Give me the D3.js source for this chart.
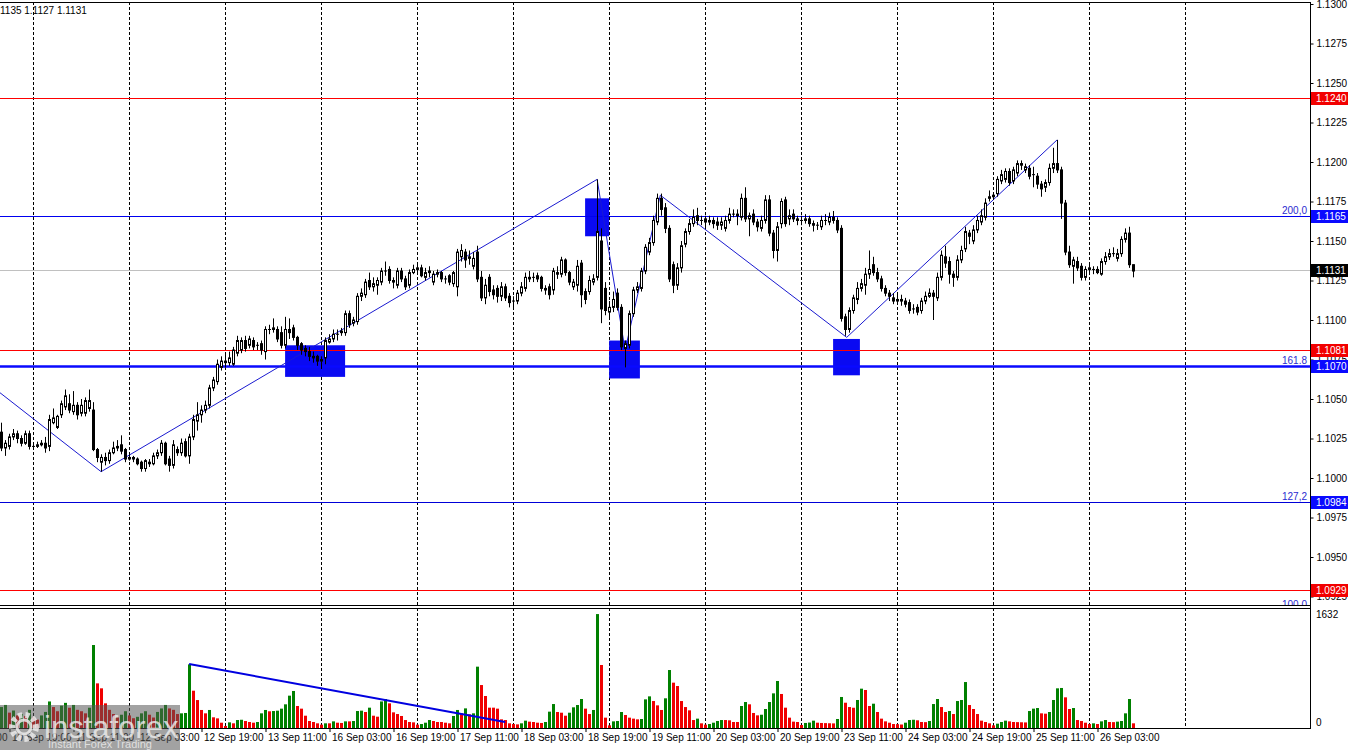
<!DOCTYPE html>
<html><head><meta charset="utf-8">
<script src="https://cdn.jsdelivr.net/npm/d3@7/dist/d3.min.js"></script>
<style>body{margin:0;background:#fff;overflow:hidden}svg{display:block}text{font-family:"Liberation Sans",Arial,sans-serif}</style>
</head><body><svg id="c" width="1350" height="750"></svg>
<script>
// ---------------- DATA ----------------
const ohlc = [
[1.1029,1.1035,1.1017,1.1019],[1.1019,1.1024,1.1014,1.1022],[1.1020,1.1028,1.1018,1.1026],[1.1026,1.1031,1.1024,1.1028],
[1.1028,1.1030,1.1022,1.1025],[1.1025,1.1027,1.1020,1.1022],[1.1022,1.1030,1.1021,1.1028],[1.1028,1.1030,1.1018,1.1020],
[1.1020,1.1021,1.1019,1.1020],[1.1020,1.1023,1.1019,1.1021],[1.1021,1.1024,1.1020,1.1022],[1.1022,1.1026,1.1016,1.1019],
[1.1020,1.1040,1.1017,1.1037],[1.1035,1.1044,1.1034,1.1038],[1.1032,1.1040,1.1031,1.1039],[1.1040,1.1049,1.1038,1.1047],
[1.1045,1.1056,1.1043,1.1052],[1.1047,1.1053,1.1041,1.1043],[1.1042,1.1055,1.1040,1.1046],[1.1046,1.1048,1.1037,1.1040],
[1.1041,1.1050,1.1039,1.1046],[1.1041,1.1051,1.1039,1.1049],[1.1044,1.1056,1.1042,1.1049],[1.1043,1.1048,1.1017,1.1018],
[1.1018,1.1019,1.1010,1.1013],[1.1010,1.1015,1.1004,1.1013],[1.1013,1.1016,1.1008,1.1011],[1.1011,1.1018,1.1009,1.1016],
[1.1016,1.1023,1.1015,1.1019],[1.1019,1.1024,1.1017,1.1020],[1.1021,1.1027,1.1015,1.1017],[1.1018,1.1019,1.1010,1.1012],
[1.1012,1.1015,1.1011,1.1013],[1.1013,1.1014,1.1010,1.1012],[1.1012,1.1013,1.1008,1.1009],[1.1010,1.1011,1.1004,1.1006],
[1.1006,1.1012,1.1004,1.1011],[1.1010,1.1012,1.1007,1.1009],[1.1009,1.1016,1.1008,1.1014],[1.1014,1.1018,1.1012,1.1016],
[1.1016,1.1024,1.1014,1.1022],[1.1022,1.1023,1.1008,1.1009],[1.1012,1.1014,1.1004,1.1008],[1.1008,1.1024,1.1006,1.1021],
[1.1018,1.1020,1.1014,1.1016],[1.1016,1.1025,1.1014,1.1022],[1.1023,1.1025,1.1013,1.1014],[1.1014,1.1028,1.1009,1.1026],
[1.1026,1.1040,1.1024,1.1037],[1.1036,1.1048,1.1030,1.1040],[1.1040,1.1046,1.1035,1.1043],[1.1043,1.1049,1.1041,1.1046],
[1.1046,1.1059,1.1044,1.1057],[1.1057,1.1064,1.1055,1.1062],[1.1061,1.1075,1.1059,1.1072],[1.1070,1.1077,1.1068,1.1074],
[1.1073,1.1078,1.1070,1.1074],[1.1073,1.1080,1.1071,1.1076],[1.1072,1.1083,1.1071,1.1081],[1.1079,1.1090,1.1077,1.1087],
[1.1081,1.1089,1.1079,1.1087],[1.1087,1.1090,1.1080,1.1082],[1.1084,1.1090,1.1082,1.1088],[1.1087,1.1089,1.1081,1.1083],
[1.1084,1.1086,1.1081,1.1084],[1.1085,1.1087,1.1078,1.1081],[1.1080,1.1096,1.1075,1.1094],[1.1094,1.1097,1.1091,1.1094],
[1.1094,1.1101,1.1092,1.1095],[1.1094,1.1096,1.1086,1.1088],[1.1092,1.1096,1.1082,1.1084],[1.1084,1.1102,1.1082,1.1094],
[1.1094,1.1101,1.1088,1.1092],[1.1095,1.1097,1.1087,1.1089],[1.1089,1.1090,1.1081,1.1084],[1.1085,1.1086,1.1078,1.1081],
[1.1082,1.1084,1.1077,1.1080],[1.1080,1.1083,1.1074,1.1077],[1.1076,1.1080,1.1073,1.1077],[1.1077,1.1078,1.1071,1.1074],
[1.1074,1.1077,1.1069,1.1075],[1.1076,1.1089,1.1072,1.1087],[1.1086,1.1091,1.1085,1.1088],[1.1088,1.1094,1.1086,1.1091],
[1.1091,1.1094,1.1087,1.1091],[1.1092,1.1095,1.1090,1.1093],[1.1092,1.1106,1.1090,1.1104],[1.1104,1.1106,1.1095,1.1097],
[1.1098,1.1102,1.1096,1.1100],[1.1099,1.1117,1.1097,1.1115],[1.1115,1.1120,1.1112,1.1117],[1.1116,1.1126,1.1114,1.1124],
[1.1125,1.1130,1.1119,1.1121],[1.1121,1.1127,1.1118,1.1123],[1.1122,1.1127,1.1116,1.1125],[1.1124,1.1133,1.1122,1.1131],
[1.1131,1.1137,1.1128,1.1131],[1.1132,1.1134,1.1123,1.1125],[1.1125,1.1127,1.1120,1.1124],[1.1122,1.1133,1.1120,1.1131],
[1.1131,1.1133,1.1124,1.1126],[1.1126,1.1128,1.1119,1.1121],[1.1122,1.1132,1.1120,1.1130],[1.1130,1.1135,1.1129,1.1132],
[1.1132,1.1135,1.1130,1.1133],[1.1133,1.1135,1.1127,1.1128],[1.1127,1.1133,1.1125,1.1130],[1.1130,1.1134,1.1127,1.1131],
[1.1124,1.1131,1.1122,1.1129],[1.1129,1.1132,1.1127,1.1130],[1.1130,1.1131,1.1124,1.1126],[1.1126,1.1128,1.1123,1.1126],
[1.1128,1.1129,1.1122,1.1124],[1.1123,1.1131,1.1121,1.1130],[1.1121,1.1145,1.1115,1.1143],[1.1140,1.1148,1.1137,1.1144],
[1.1143,1.1145,1.1133,1.1138],[1.1139,1.1144,1.1135,1.1140],[1.1134,1.1143,1.1132,1.1139],[1.1143,1.1147,1.1124,1.1126],
[1.1127,1.1131,1.1112,1.1114],[1.1114,1.1126,1.1110,1.1122],[1.1127,1.1129,1.1115,1.1118],[1.1119,1.1122,1.1113,1.1116],
[1.1120,1.1122,1.1111,1.1115],[1.1115,1.1124,1.1112,1.1121],[1.1121,1.1123,1.1112,1.1114],[1.1115,1.1117,1.1108,1.1111],
[1.1112,1.1115,1.1108,1.1112],[1.1112,1.1119,1.1110,1.1117],[1.1117,1.1124,1.1115,1.1121],[1.1120,1.1130,1.1118,1.1127],
[1.1126,1.1131,1.1124,1.1127],[1.1127,1.1130,1.1124,1.1127],[1.1128,1.1130,1.1124,1.1126],[1.1127,1.1128,1.1118,1.1120],
[1.1120,1.1122,1.1116,1.1119],[1.1121,1.1123,1.1113,1.1116],[1.1119,1.1133,1.1116,1.1131],[1.1130,1.1134,1.1126,1.1129],
[1.1129,1.1140,1.1127,1.1138],[1.1138,1.1139,1.1128,1.1130],[1.1130,1.1131,1.1122,1.1124],[1.1121,1.1126,1.1119,1.1124],
[1.1122,1.1138,1.1118,1.1134],[1.1136,1.1138,1.1108,1.1116],[1.1118,1.1120,1.1110,1.1113],[1.1118,1.1128,1.1116,1.1125],
[1.1124,1.1129,1.1122,1.1126],[1.1127,1.1189,1.1125,1.1156],[1.1150,1.1158,1.1098,1.1107],[1.1120,1.1124,1.1103,1.1106],
[1.1105,1.1112,1.1100,1.1108],[1.1108,1.1118,1.1105,1.1113],[1.1117,1.1120,1.1106,1.1108],[1.1108,1.1110,1.1081,1.1083],
[1.1082,1.1087,1.1070,1.1085],[1.1084,1.1106,1.1082,1.1104],[1.1104,1.1121,1.1102,1.1119],[1.1119,1.1124,1.1117,1.1121],
[1.1120,1.1133,1.1118,1.1131],[1.1131,1.1148,1.1129,1.1146],[1.1143,1.1152,1.1141,1.1149],[1.1149,1.1166,1.1147,1.1163],
[1.1162,1.1180,1.1160,1.1177],[1.1177,1.1180,1.1166,1.1170],[1.1171,1.1174,1.1155,1.1158],[1.1158,1.1160,1.1124,1.1126],
[1.1135,1.1137,1.1117,1.1122],[1.1122,1.1136,1.1119,1.1133],[1.1133,1.1150,1.1130,1.1147],[1.1148,1.1158,1.1146,1.1156],
[1.1156,1.1164,1.1154,1.1161],[1.1161,1.1170,1.1159,1.1165],[1.1166,1.1171,1.1160,1.1163],[1.1163,1.1166,1.1160,1.1163],
[1.1164,1.1166,1.1158,1.1162],[1.1162,1.1166,1.1160,1.1163],[1.1163,1.1165,1.1158,1.1161],[1.1162,1.1165,1.1157,1.1160],
[1.1160,1.1165,1.1157,1.1162],[1.1158,1.1166,1.1156,1.1163],[1.1163,1.1171,1.1161,1.1167],[1.1167,1.1170,1.1165,1.1167],
[1.1167,1.1170,1.1160,1.1166],[1.1165,1.1180,1.1163,1.1177],[1.1177,1.1184,1.1162,1.1164],[1.1164,1.1168,1.1153,1.1166],
[1.1167,1.1170,1.1160,1.1162],[1.1162,1.1164,1.1156,1.1159],[1.1158,1.1166,1.1156,1.1163],[1.1163,1.1179,1.1161,1.1176],
[1.1176,1.1179,1.1153,1.1155],[1.1155,1.1157,1.1139,1.1144],[1.1144,1.1162,1.1137,1.1159],[1.1161,1.1177,1.1158,1.1175],
[1.1176,1.1178,1.1159,1.1161],[1.1164,1.1170,1.1160,1.1166],[1.1167,1.1170,1.1162,1.1164],[1.1164,1.1166,1.1160,1.1163],
[1.1163,1.1166,1.1160,1.1163],[1.1163,1.1167,1.1161,1.1164],[1.1164,1.1166,1.1159,1.1161],[1.1161,1.1163,1.1156,1.1160],
[1.1160,1.1162,1.1157,1.1160],[1.1159,1.1166,1.1157,1.1163],[1.1163,1.1167,1.1160,1.1163],[1.1162,1.1168,1.1160,1.1165],
[1.1165,1.1169,1.1161,1.1163],[1.1163,1.1165,1.1155,1.1157],[1.1158,1.1160,1.1099,1.1101],[1.1102,1.1104,1.1090,1.1094],
[1.1094,1.1108,1.1092,1.1106],[1.1106,1.1116,1.1104,1.1114],[1.1113,1.1124,1.1110,1.1120],[1.1120,1.1126,1.1118,1.1123],
[1.1122,1.1133,1.1116,1.1129],[1.1129,1.1144,1.1126,1.1132],[1.1135,1.1140,1.1128,1.1130],[1.1130,1.1133,1.1124,1.1126],
[1.1126,1.1128,1.1118,1.1120],[1.1120,1.1122,1.1115,1.1117],[1.1117,1.1119,1.1112,1.1115],[1.1114,1.1117,1.1110,1.1112],
[1.1112,1.1116,1.1110,1.1113],[1.1113,1.1116,1.1109,1.1112],[1.1112,1.1114,1.1108,1.1110],[1.1111,1.1113,1.1104,1.1106],
[1.1107,1.1110,1.1104,1.1107],[1.1108,1.1110,1.1103,1.1105],[1.1106,1.1114,1.1104,1.1112],[1.1112,1.1118,1.1110,1.1115],
[1.1115,1.1120,1.1114,1.1117],[1.1117,1.1119,1.1100,1.1115],[1.1114,1.1130,1.1112,1.1127],[1.1127,1.1144,1.1125,1.1141],
[1.1140,1.1147,1.1133,1.1136],[1.1137,1.1140,1.1123,1.1129],[1.1129,1.1131,1.1121,1.1127],[1.1127,1.1141,1.1125,1.1138],
[1.1138,1.1147,1.1136,1.1144],[1.1145,1.1159,1.1143,1.1156],[1.1155,1.1157,1.1148,1.1153],[1.1150,1.1160,1.1148,1.1157],
[1.1157,1.1166,1.1155,1.1163],[1.1162,1.1170,1.1160,1.1166],[1.1165,1.1177,1.1163,1.1174],[1.1177,1.1182,1.1175,1.1178],
[1.1178,1.1181,1.1176,1.1179],[1.1180,1.1191,1.1178,1.1189],[1.1188,1.1195,1.1186,1.1192],[1.1189,1.1196,1.1187,1.1194],
[1.1194,1.1196,1.1185,1.1187],[1.1188,1.1197,1.1186,1.1195],[1.1193,1.1201,1.1191,1.1199],[1.1199,1.1201,1.1195,1.1198],
[1.1195,1.1199,1.1193,1.1197],[1.1196,1.1198,1.1189,1.1191],[1.1192,1.1197,1.1184,1.1192],[1.1191,1.1193,1.1183,1.1186],
[1.1186,1.1188,1.1178,1.1183],[1.1184,1.1189,1.1181,1.1187],[1.1187,1.1199,1.1185,1.1196],[1.1196,1.1209,1.1193,1.1199],
[1.1199,1.1214,1.1193,1.1195],[1.1195,1.1197,1.1164,1.1174],[1.1174,1.1176,1.1141,1.1143],[1.1143,1.1147,1.1133,1.1135],
[1.1134,1.1140,1.1123,1.1138],[1.1137,1.1140,1.1131,1.1133],[1.1134,1.1136,1.1125,1.1127],[1.1127,1.1134,1.1125,1.1132],
[1.1132,1.1135,1.1130,1.1133],[1.1132,1.1134,1.1129,1.1132],[1.1132,1.1134,1.1129,1.1130],[1.1129,1.1139,1.1128,1.1137],
[1.1137,1.1143,1.1135,1.1140],[1.1140,1.1145,1.1138,1.1142],[1.1142,1.1146,1.1140,1.1142],[1.1139,1.1145,1.1137,1.1142],
[1.1142,1.1153,1.1140,1.1151],[1.1151,1.1158,1.1149,1.1155],[1.1155,1.1159,1.1133,1.1135],[1.1135,1.1135,1.1127,1.1131]
];
const volumes = [
300,330,220,250,180,200,170,260,150,120,180,230,380,300,240,320,360,290,330,260,
240,210,290,1188,639,568,353,260,200,150,190,240,180,140,160,210,240,190,150,230,
280,330,280,260,200,210,215,911,534,400,258,210,258,153,138,76,29,81,67,114,
118,100,86,76,86,210,258,239,243,248,277,339,463,530,315,277,176,100,86,67,
48,67,67,95,76,72,95,95,100,243,248,229,291,176,162,380,415,353,224,200,
172,114,86,81,48,57,76,114,100,86,86,76,67,172,258,210,281,196,210,878,
615,458,291,291,277,124,114,67,57,52,67,105,91,86,76,72,86,234,343,229,
219,176,219,296,329,415,277,200,258,1631,902,148,38,95,100,229,186,148,134,124,
129,410,453,386,324,258,425,830,649,601,386,300,253,114,134,67,48,57,76,100,
114,114,110,86,86,315,372,339,215,181,190,272,372,496,673,487,291,148,91,86,
43,72,78,105,76,72,70,68,66,129,444,362,300,290,401,563,544,315,348,229,
134,95,76,57,55,50,76,114,118,110,86,84,100,343,415,300,229,243,200,386,
401,658,329,272,200,105,86,67,38,62,86,105,95,86,84,82,80,243,277,286,
210,205,229,401,568,573,439,272,286,114,100,76,57,67,57,95,114,86,84,91,
100,210,415,67
];
const priceTicks = [1.0925,1.0950,1.0975,1.1000,1.1025,1.1050,1.1075,1.1100,1.1125,1.1150,1.1175,1.1200,1.1225,1.1250,1.1275,1.1300];
const timeLabels = ["10 Sep 03:00","10 Sep 19:00","11 Sep 11:00","12 Sep 03:00","12 Sep 19:00","13 Sep 11:00","16 Sep 03:00","16 Sep 19:00","17 Sep 11:00","18 Sep 03:00","18 Sep 19:00","19 Sep 11:00","20 Sep 03:00","20 Sep 19:00","23 Sep 11:00","24 Sep 03:00","24 Sep 19:00","25 Sep 11:00","26 Sep 03:00"];
const timeLabelIdx = [-14,2,18,34,50,66,82,98,114,130,146,162,178,194,210,226,242,258,274];
const gridIdx = [8,32,56,80,104,128,152,176,200,224,248,272,296];
const redLevels = [1.1240,1.1081,1.0929];
const fibLevels = [1.1165,1.1070,1.0984,1.0916];
const fibNames = ["200,0","161.8","127,2","100.0"];
const currentPrice = 1.1131;
const zigzag = [[-0.4,1.1054],[24.9,1.1004],[148.9,1.1189],[155.9,1.1081],[164.7,1.1179],[211.3,1.1089],[263.9,1.1214]];
const boxes = [[70.9,85.9,1.1084,1.1064],[145.9,151.9,1.1177,1.1153],[151.9,159.6,1.1087,1.1063],[207.9,214.6,1.1088,1.1065]];
const volTrend = [[46.9,916],[125.9,86]];
const volMax = 1632;
const headerText = "1135 1.1127 1.1131";

// ---------------- LAYOUT ----------------
const svg = d3.select("#c");
const AX = 1310, MT = 2, MB = 605, VT = 608, VB = 728;
const x = d3.scaleLinear().domain([0, 283]).range([1.5, 1133.5]);
const y = d3.scaleLinear().domain([1.0925, 1.1300]).range([596.5, 4]);
const yv = d3.scaleLinear().domain([0, volMax]).range([VB, 614]);

const defs = svg.append("defs");
defs.append("clipPath").attr("id","cm").append("rect").attr("x",0).attr("y",MT).attr("width",AX).attr("height",MB-MT);
defs.append("clipPath").attr("id","cv").append("rect").attr("x",0).attr("y",VT).attr("width",AX).attr("height",VB-VT);

const main = svg.append("g").attr("clip-path","url(#cm)");
const vol = svg.append("g").attr("clip-path","url(#cv)");

// grid
[[main,MT,MB],[vol,VT,VB]].forEach(([g,a,b])=>{
  g.selectAll(null).data(gridIdx).enter().append("line")
   .attr("x1",d=>x(d)).attr("x2",d=>x(d)).attr("y1",a).attr("y2",b)
   .attr("stroke","#000").attr("stroke-width",1).attr("stroke-dasharray","3,2");
});

// boxes
main.selectAll(null).data(boxes).enter().append("rect")
 .attr("x",d=>x(d[0])).attr("width",d=>x(d[1])-x(d[0]))
 .attr("y",d=>y(d[2])).attr("height",d=>y(d[3])-y(d[2]))
 .attr("fill","#0a0af2");

// level lines (snapped to whole pixel rows)
const lrow = p => Math.floor(y(p)/2)*2;
const ly = p => lrow(p) + 0.5;
main.append("line").attr("x1",0).attr("x2",AX).attr("y1",ly(currentPrice)).attr("y2",ly(currentPrice))
 .attr("stroke","#c0c0c0");
main.selectAll(null).data(redLevels).enter().append("line")
 .attr("x1",0).attr("x2",AX).attr("y1",ly).attr("y2",ly)
 .attr("stroke","#ff0000").attr("stroke-width",1);
const fibStroke = ["#0000f0","#0a0aff","#0000d8","#0000f0"];
const fibWidth = [1,2.5,1,1];
main.selectAll(null).data(fibLevels).enter().append("line")
 .attr("x1",0).attr("x2",AX).attr("y1",ly).attr("y2",ly)
 .attr("stroke",(d,i)=>fibStroke[i]).attr("stroke-width",(d,i)=>fibWidth[i]);
main.selectAll(null).data(fibLevels).enter().append("text")
 .attr("x",AX-3).attr("y",d=>lrow(d)-2).attr("text-anchor","end")
 .attr("font-size",10).attr("fill","#2a2ad0").text((d,i)=>fibNames[i]);

// zigzag
main.append("path").datum(zigzag)
 .attr("d",d3.line().x(d=>x(d[0])).y(d=>y(d[1])))
 .attr("fill","none").attr("stroke","#1a1ad0").attr("stroke-width",1);

// candles
const cg = main.append("g");
cg.selectAll(null).data(ohlc).enter().append("line")
 .attr("x1",(d,i)=>x(i)).attr("x2",(d,i)=>x(i))
 .attr("y1",d=>y(Math.max(d[1],d[0],d[3]))).attr("y2",d=>y(Math.min(d[2],d[0],d[3])))
 .attr("stroke","#000").attr("stroke-width",1);
cg.selectAll(null).data(ohlc).enter().append("rect")
 .attr("x",(d,i)=>x(i)-1).attr("width",2)
 .attr("y",d=>y(Math.max(d[0],d[3])))
 .attr("height",d=>Math.max(0.01, y(Math.min(d[0],d[3]))-y(Math.max(d[0],d[3]))))
 .attr("fill",d=>d[3]>=d[0]?"#fff":"#000").attr("stroke","#000").attr("stroke-width",1);

// volume bars
vol.selectAll(null).data(volumes).enter().append("rect")
 .attr("x",(d,i)=>x(i)-1.5).attr("width",3)
 .attr("y",d=>yv(d)).attr("height",d=>VB-yv(d))
 .attr("fill",(d,i)=>(i===0||d>volumes[i-1])?"#008000":"#f00000");
vol.append("path").datum(volTrend)
 .attr("d",d3.line().x(d=>x(d[0])).y(d=>yv(d[1])))
 .attr("fill","none").attr("stroke","#0000e0").attr("stroke-width",2);

// borders
const B = svg.append("g").attr("stroke","#000").attr("stroke-width",1);
B.append("line").attr("x1",0).attr("x2",AX).attr("y1",MT+0.5).attr("y2",MT+0.5);
B.append("line").attr("x1",0).attr("x2",AX).attr("y1",MB+0.5).attr("y2",MB+0.5);
B.append("line").attr("x1",0).attr("x2",AX).attr("y1",VT+0.5).attr("y2",VT+0.5);
B.append("line").attr("x1",0).attr("x2",AX).attr("y1",VB+0.5).attr("y2",VB+0.5);
B.append("line").attr("x1",AX+0.5).attr("x2",AX+0.5).attr("y1",MT).attr("y2",VB+1);

// price axis
const pa = svg.append("g").attr("transform",`translate(${AX+0.5},0)`)
 .call(d3.axisRight(y).tickValues(priceTicks).tickFormat(d3.format(".4f")).tickSize(3).tickPadding(3));
pa.select(".domain").remove();
pa.selectAll("text").attr("font-size",10).attr("font-family","Liberation Sans, Arial, sans-serif").attr("fill","#000");
pa.selectAll("line").attr("stroke","#000");

// price labels on axis
const tags = [];
redLevels.forEach(p=>tags.push([p,"#f20000"]));
fibLevels.slice(0,3).forEach(p=>tags.push([p,"#0a0aff"]));
tags.push([currentPrice,"#000"]);
const tg = svg.append("g");
tags.forEach(([p,c])=>{
  const yy = lrow(p);
  tg.append("rect").attr("x",AX+1).attr("y",yy-6).attr("width",37).attr("height",13).attr("fill",c);
  tg.append("text").attr("x",AX+6).attr("y",yy+4).attr("font-size",10).attr("fill","#fff").text(p.toFixed(4));
});

// volume axis labels
svg.append("text").attr("x",AX+6).attr("y",yv(volMax)+4).attr("font-size",10).text(String(volMax));
svg.append("text").attr("x",AX+6).attr("y",yv(0)-2).attr("font-size",10).text("0");

// time axis
const ta = svg.append("g").attr("transform",`translate(0,${VB+1})`)
 .call(d3.axisBottom(x).tickValues(timeLabelIdx).tickFormat((d,k)=>timeLabels[k]).tickSize(3).tickPadding(2));
ta.select(".domain").remove();
ta.selectAll("text").attr("text-anchor","start").attr("dx",2).attr("font-size",10)
 .attr("font-family","Liberation Sans, Arial, sans-serif").attr("fill","#000");
ta.selectAll("line").attr("stroke","#000");

// header
svg.append("text").attr("x",0).attr("y",14).attr("font-size",10).text(headerText);

// logo overlay
const lg = svg.append("g");
lg.append("rect").attr("x",0).attr("y",705).attr("width",180).attr("height",45).attr("fill","rgba(85,85,85,0.55)");
lg.append("circle").attr("cx",24).attr("cy",727).attr("r",12).attr("fill","none")
 .attr("stroke","rgba(235,235,235,0.85)").attr("stroke-width",6).attr("stroke-dasharray","4,3.2");
lg.append("circle").attr("cx",24).attr("cy",727).attr("r",7).attr("fill","none")
 .attr("stroke","rgba(235,235,235,0.85)").attr("stroke-width",3);
lg.append("text").attr("x",44).attr("y",738).attr("font-size",31).attr("fill","rgba(240,240,240,0.8)").text("instaforex");
lg.append("text").attr("x",48).attr("y",748).attr("font-size",11).attr("fill","rgba(240,240,240,0.8)").text("Instant Forex Trading");
</script></body></html>
